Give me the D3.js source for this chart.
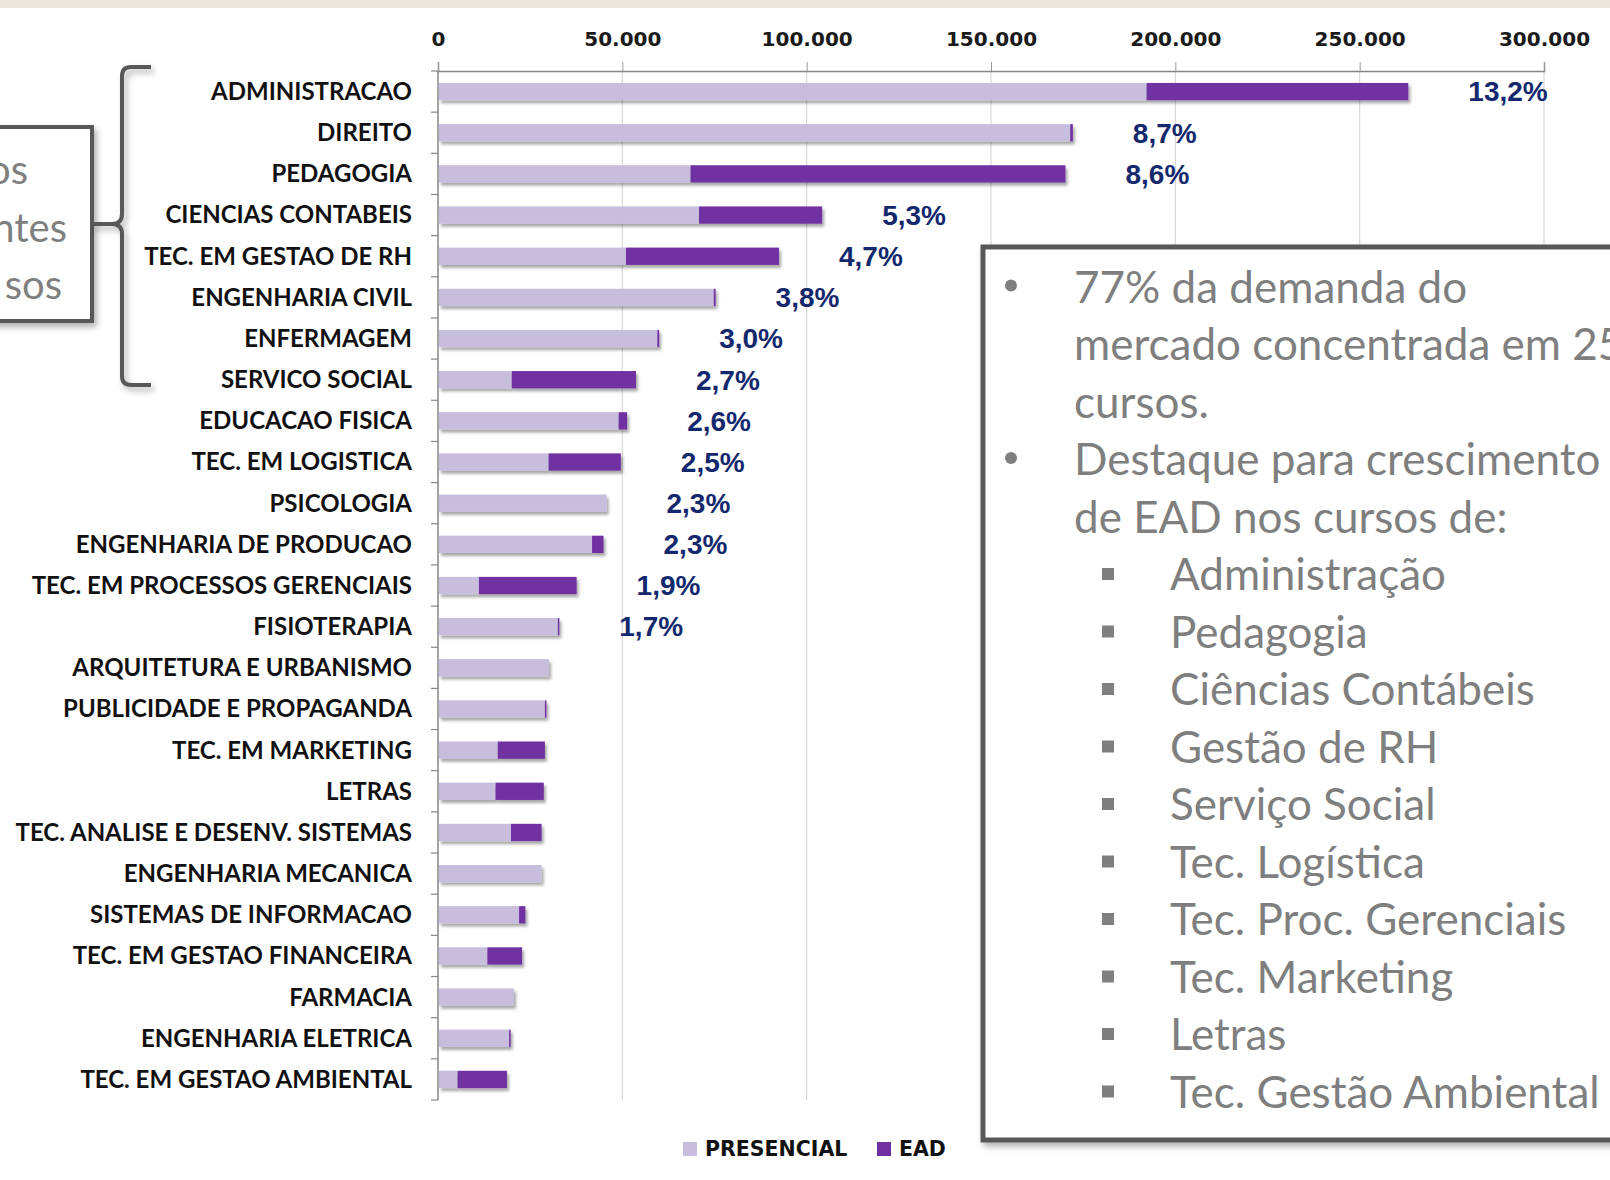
<!DOCTYPE html>
<html>
<head>
<meta charset="utf-8">
<script src="https://cdn.jsdelivr.net/npm/d3@7"></script>
<style>
  html, body { margin: 0; padding: 0; background: #fff; overflow: hidden; }
  svg { display: block; }
</style>
</head>
<body>
<div id="container"></div>
<script>
// Courses, in chart order (top to bottom)
const courses = [
  "ADMINISTRACAO", "DIREITO", "PEDAGOGIA", "CIENCIAS CONTABEIS",
  "TEC. EM GESTAO DE RH", "ENGENHARIA CIVIL", "ENFERMAGEM", "SERVICO SOCIAL",
  "EDUCACAO FISICA", "TEC. EM LOGISTICA", "PSICOLOGIA", "ENGENHARIA DE PRODUCAO",
  "TEC. EM PROCESSOS GERENCIAIS", "FISIOTERAPIA", "ARQUITETURA E URBANISMO",
  "PUBLICIDADE E PROPAGANDA", "TEC. EM MARKETING", "LETRAS",
  "TEC. ANALISE E DESENV. SISTEMAS", "ENGENHARIA MECANICA", "SISTEMAS DE INFORMACAO",
  "TEC. EM GESTAO FINANCEIRA", "FARMACIA", "ENGENHARIA ELETRICA", "TEC. EM GESTAO AMBIENTAL"
];

// Enrolments
const presencial = [
  192200, 171500, 68500, 70800, 51000, 74800, 59500, 20000,
  49000, 30000, 45700, 41800, 11100, 32500, 30100, 29000,
  16200, 15600, 19800, 28100, 22000, 13400, 20600, 19300, 5300
];
const ead = [
  71000, 700, 101700, 33400, 41500, 500, 500, 33700,
  2300, 19600, 0, 3100, 26500, 400, 0, 300,
  12800, 13100, 8300, 0, 1700, 9400, 0, 300, 13400
];

// Market share labels (top 14 only)
const shares = [
  "13,2%", "8,7%", "8,6%", "5,3%", "4,7%", "3,8%", "3,0%",
  "2,7%", "2,6%", "2,5%", "2,3%", "2,3%", "1,9%", "1,7%"
];

const xTicks = [0, 50000, 100000, 150000, 200000, 250000, 300000];
const seriesNames = ["PRESENCIAL", "EAD"];
const seriesColors = ["#c6bedc", "#7030a0"];

const sideText = ["os", "ntes", "sos"];
const notes = [
  { level: 1, bullet: true,  text: "77% da demanda do" },
  { level: 1, bullet: false, text: "mercado concentrada em 25" },
  { level: 1, bullet: false, text: "cursos." },
  { level: 1, bullet: true,  text: "Destaque para crescimento" },
  { level: 1, bullet: false, text: "de EAD nos cursos de:" },
  { level: 2, bullet: true,  text: "Administração" },
  { level: 2, bullet: true,  text: "Pedagogia" },
  { level: 2, bullet: true,  text: "Ciências Contábeis" },
  { level: 2, bullet: true,  text: "Gestão de RH" },
  { level: 2, bullet: true,  text: "Serviço Social" },
  { level: 2, bullet: true,  text: "Tec. Logística" },
  { level: 2, bullet: true,  text: "Tec. Proc. Gerenciais" },
  { level: 2, bullet: true,  text: "Tec. Marketing" },
  { level: 2, bullet: true,  text: "Letras" },
  { level: 2, bullet: true,  text: "Tec. Gestão Ambiental" }
];

const width = 1610, height = 1180;
const chartLeft = 438, chartRight = 1544, chartTop = 71, chartBottom = 1100;
const font = "Lato, 'Open Sans', sans-serif";
const axisFont = "'DejaVu Sans', Verdana, sans-serif";

const svg = d3.select('#container')
  .append('svg')
  .attr('width', width)
  .attr('height', height)
  .style('font-family', font);

const defs = svg.append('defs');
defs.append('filter')
  .attr('id', 'barShadow')
  .attr('x', '-5%').attr('y', '-50%').attr('width', '110%').attr('height', '220%')
  .append('feDropShadow')
  .attr('dx', 2).attr('dy', 3).attr('stdDeviation', 1.8)
  .attr('flood-color', '#000').attr('flood-opacity', 0.35);
defs.append('filter')
  .attr('id', 'boxShadow')
  .attr('x', '-10%').attr('y', '-10%').attr('width', '120%').attr('height', '120%')
  .append('feDropShadow')
  .attr('dx', 3).attr('dy', 4).attr('stdDeviation', 3)
  .attr('flood-color', '#000').attr('flood-opacity', 0.3);

// Beige strip along the top of the slide
svg.append('rect')
  .attr('x', 0).attr('y', 0).attr('width', width).attr('height', 8)
  .attr('fill', '#ebe8df');

const data = courses.map((c, i) => ({
  course: c, pres: presencial[i], ead: ead[i], share: shares[i]
}));

const xScale = d3.scaleLinear()
  .domain([0, 300000])
  .range([chartLeft, chartRight]);

const yScale = d3.scaleBand()
  .domain(courses)
  .range([chartTop, chartBottom])
  .paddingInner(0.58)
  .paddingOuter(0.29);

const fmt = d3.formatLocale({ decimal: ",", thousands: ".", grouping: [3] }).format(",");

// Gridlines
svg.append('g')
  .selectAll('line')
  .data(xTicks.slice(1))
  .enter()
  .append('line')
  .attr('x1', d => xScale(d)).attr('x2', d => xScale(d))
  .attr('y1', chartTop).attr('y2', chartBottom)
  .attr('stroke', '#d9d9d9')
  .attr('stroke-width', 1.2);

// Top axis
const xAxis = d3.axisTop(xScale)
  .tickValues(xTicks)
  .tickSize(9)
  .tickPadding(16)
  .tickFormat(d => fmt(d));
const gx = svg.append('g')
  .attr('transform', 'translate(0,' + chartTop + ')')
  .call(xAxis);
gx.select('.domain').attr('stroke', '#868686').attr('stroke-width', 1.5);
gx.selectAll('.tick line').attr('stroke', '#9a9a9a');
gx.selectAll('.tick text')
  .attr('font-size', 20)
  .attr('font-weight', 'bold')
  .attr('font-family', axisFont)
  .attr('fill', '#1a1a1a');

// Left axis with ticks between categories
svg.append('line')
  .attr('x1', chartLeft).attr('x2', chartLeft)
  .attr('y1', chartTop).attr('y2', chartBottom)
  .attr('stroke', '#868686').attr('stroke-width', 1.5);
const step = yScale.step();
svg.append('g')
  .selectAll('line')
  .data(d3.range(courses.length + 1))
  .enter()
  .append('line')
  .attr('x1', chartLeft - 7).attr('x2', chartLeft)
  .attr('y1', d => chartTop + d * step).attr('y2', d => chartTop + d * step)
  .attr('stroke', '#868686').attr('stroke-width', 1.2);

// Category labels
svg.append('g')
  .selectAll('text')
  .data(data)
  .enter()
  .append('text')
  .attr('x', chartLeft - 26)
  .attr('y', d => yScale(d.course) + yScale.bandwidth() / 2)
  .attr('dy', '0.35em')
  .attr('text-anchor', 'end')
  .attr('font-size', 24)
  .attr('font-weight', 'bold')
  .attr('fill', '#111')
  .text(d => d.course);

// Stacked bars
const bars = svg.append('g').attr('filter', 'url(#barShadow)');
bars.selectAll('rect.pres')
  .data(data)
  .enter()
  .append('rect')
  .attr('class', 'pres')
  .attr('x', xScale(0) + 1)
  .attr('y', d => yScale(d.course))
  .attr('width', d => xScale(d.pres) - xScale(0) - 1)
  .attr('height', yScale.bandwidth())
  .attr('fill', seriesColors[0]);
bars.selectAll('rect.ead')
  .data(data.filter(d => d.ead > 0))
  .enter()
  .append('rect')
  .attr('class', 'ead')
  .attr('x', d => xScale(d.pres))
  .attr('y', d => yScale(d.course))
  .attr('width', d => Math.max(1.5, xScale(d.pres + d.ead) - xScale(d.pres)))
  .attr('height', yScale.bandwidth())
  .attr('fill', seriesColors[1]);

// Share labels
svg.append('g')
  .selectAll('text')
  .data(data.filter(d => d.share))
  .enter()
  .append('text')
  .attr('x', d => xScale(d.pres + d.ead) + 60)
  .attr('y', d => yScale(d.course) + yScale.bandwidth() / 2)
  .attr('dy', '0.35em')
  .attr('font-family', "'Liberation Sans', Arial, sans-serif")
  .attr('font-size', 28)
  .attr('font-weight', 'bold')
  .attr('fill', '#14286e')
  .text(d => d.share);

// Legend
const legend = svg.append('g').attr('transform', 'translate(683,1149)');
const legendX = [0, 194];
seriesNames.forEach((name, i) => {
  const g = legend.append('g').attr('transform', 'translate(' + legendX[i] + ',0)');
  g.append('rect')
    .attr('x', 0).attr('y', -7).attr('width', 14).attr('height', 14)
    .attr('fill', seriesColors[i]);
  g.append('text')
    .attr('x', 22).attr('y', 0).attr('dy', '0.36em')
    .attr('font-family', axisFont)
    .attr('font-size', 20.5).attr('font-weight', 'bold').attr('fill', '#111')
    .text(name);
});

// Left callout box (cut off by the slide edge) and brace
svg.append('rect')
  .attr('x', -20).attr('y', 127).attr('width', 112).attr('height', 194)
  .attr('fill', '#fff').attr('stroke', '#595959').attr('stroke-width', 4)
  .attr('filter', 'url(#boxShadow)');
svg.append('g')
  .selectAll('text')
  .data(sideText)
  .enter()
  .append('text')
  .attr('x', (d, i) => [28, 67, 62][i])
  .attr('y', (d, i) => 170 + i * 57.5)
  .attr('dy', '0.35em')
  .attr('text-anchor', 'end')
  .attr('font-size', 40)
  .attr('fill', '#7f7f7f')
  .text(d => d);
svg.append('path')
  .attr('d', 'M151,67 H131 Q122,67 122,76 V214 Q122,224 112,224 H92 M112,224 Q122,224 122,234 V376 Q122,385 131,385 H151')
  .attr('fill', 'none')
  .attr('stroke', '#595959')
  .attr('stroke-width', 4)
  .attr('filter', 'url(#boxShadow)');

// Right notes box
svg.append('rect')
  .attr('x', 983).attr('y', 247).attr('width', 700).attr('height', 893)
  .attr('fill', '#fff').attr('stroke', '#595959').attr('stroke-width', 5)
  .attr('filter', 'url(#boxShadow)');
const noteG = svg.append('g');
notes.forEach((n, i) => {
  const y = 287.5 + i * 57.5;
  if (n.bullet && n.level === 1) {
    noteG.append('circle')
      .attr('cx', 1011).attr('cy', y - 2).attr('r', 6)
      .attr('fill', '#7f7f7f');
  }
  if (n.bullet && n.level === 2) {
    noteG.append('rect')
      .attr('x', 1102).attr('y', y - 7).attr('width', 12).attr('height', 12)
      .attr('fill', '#7f7f7f');
  }
  noteG.append('text')
    .attr('x', n.level === 1 ? 1074 : 1170)
    .attr('y', y)
    .attr('dy', '0.35em')
    .attr('font-size', 44)
    .attr('fill', '#7f7f7f')
    .text(n.text);
});
</script>
</body>
</html>
